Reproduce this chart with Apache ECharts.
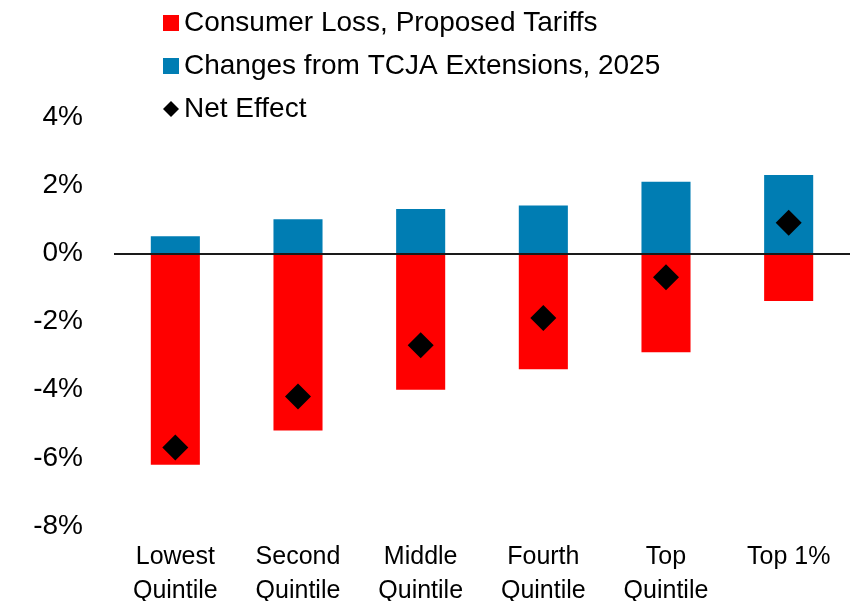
<!DOCTYPE html>
<html>
<head>
<meta charset="utf-8">
<script src="https://cdn.jsdelivr.net/npm/echarts@6/dist/echarts.min.js"></script>
<style>
  html, body { margin: 0; padding: 0; background: #fff; }
  #chart { width: 852px; height: 601px; }
</style>
</head>
<body>
<div id="chart"></div>
<script>
// Income groups along the horizontal axis
const categories = ['Lowest\nQuintile', 'Second\nQuintile', 'Middle\nQuintile', 'Fourth\nQuintile', 'Top\nQuintile', 'Top 1%'];
// Percent change in after-tax income
const tariffLoss = [-6.2, -5.2, -4.0, -3.4, -2.9, -1.4];
const tcjaGain = [0.5, 1.0, 1.3, 1.4, 2.1, 2.3];
const netEffect = [-5.7, -4.2, -2.7, -1.9, -0.7, 0.9];
const yTicks = { min: -8, max: 4, step: 2 };

const narrow = '"Liberation Sans Narrow", "Liberation Sans", Arial, sans-serif';

const chart = echarts.init(document.getElementById('chart'), null, { renderer: 'canvas' });
chart.setOption({
  animation: false,
  backgroundColor: '#ffffff',
  grid: { left: 114, right: 2, top: 117, bottom: 75, containLabel: false, outerBoundsMode: 'none' },
  legend: {
    orient: 'vertical',
    left: 158,
    top: 4,
    itemWidth: 16,
    itemHeight: 16,
    itemGap: 15,
    textStyle: { fontFamily: narrow, fontSize: 28, color: '#000' },
    data: [
      { name: 'Consumer Loss, Proposed Tariffs', icon: 'rect' },
      { name: 'Changes from TCJA Extensions, 2025', icon: 'rect' },
      { name: 'Net Effect', icon: 'diamond', itemStyle: { opacity: 1 } }
    ]
  },
  xAxis: {
    type: 'category',
    data: categories,
    axisLine: { show: false },
    axisTick: { show: false },
    axisLabel: {
      margin: 14,
      fontFamily: narrow,
      fontSize: 25,
      lineHeight: 34,
      color: '#000',
      interval: 0
    }
  },
  yAxis: {
    type: 'value',
    min: yTicks.min,
    max: yTicks.max,
    interval: yTicks.step,
    splitLine: { show: false },
    axisLine: { show: false },
    axisTick: { show: false },
    axisLabel: {
      margin: 31,
      fontFamily: '"Liberation Sans", Arial, sans-serif',
      fontSize: 28,
      color: '#000',
      formatter: v => v + '%'
    }
  },
  series: [
    {
      name: 'Consumer Loss, Proposed Tariffs',
      type: 'bar',
      data: tariffLoss,
      barWidth: '40%',
      barGap: '-100%',
      itemStyle: { color: '#FF0000' }
    },
    {
      name: 'Changes from TCJA Extensions, 2025',
      type: 'bar',
      data: tcjaGain,
      barWidth: '40%',
      itemStyle: { color: '#007DB3' },
      markLine: {
        silent: true,
        symbol: 'none',
        label: { show: false },
        lineStyle: { color: '#1a1a1a', width: 2, type: 'solid' },
        data: [{ yAxis: 0 }]
      }
    },
    {
      name: 'Net Effect',
      type: 'scatter',
      data: netEffect,
      symbol: 'diamond',
      symbolSize: 26,
      itemStyle: { color: '#000', opacity: 1 },
      z: 5
    }
  ]
});
</script>
</body>
</html>
